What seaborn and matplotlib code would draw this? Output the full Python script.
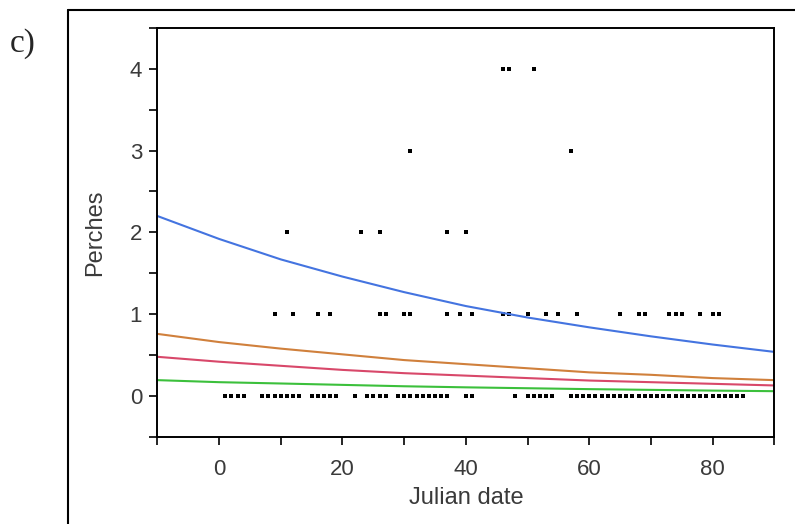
import matplotlib
matplotlib.use("Agg")
import matplotlib.pyplot as plt
import seaborn as sns
import pandas as pd
from matplotlib.lines import Line2D
from matplotlib.ticker import MultipleLocator

# ---- data ----
x0 = [1, 2, 3, 4, 7, 8, 9, 10, 11, 12, 13, 15, 16, 17, 18, 19, 22, 24, 25, 26, 27,
      29, 30, 31, 32, 33, 34, 35, 36, 37, 40, 41, 48, 50, 51, 52, 53, 54] + list(range(57, 86))
x1 = [9, 12, 16, 18, 26, 27, 30, 31, 37, 39, 41, 46, 47, 50, 53, 55, 58, 65, 68, 69,
      73, 74, 75, 78, 80, 81]
x2 = [11, 23, 26, 37, 40]
x3 = [31, 57]
x4 = [46, 47, 51]

curve_x = [-10, 0, 10, 20, 30, 40, 50, 60, 70, 80, 90]
blue_y = [2.20, 1.92, 1.67, 1.46, 1.27, 1.10, 0.96, 0.84, 0.73, 0.63, 0.54]
orange_y = [0.76, 0.66, 0.58, 0.51, 0.44, 0.39, 0.34, 0.29, 0.26, 0.22, 0.195]
red_y = [0.48, 0.42, 0.37, 0.32, 0.28, 0.25, 0.22, 0.19, 0.17, 0.15, 0.13]
green_y = [0.195, 0.17, 0.154, 0.137, 0.12, 0.107, 0.096, 0.085, 0.076, 0.067, 0.06]

x_ticks = [0, 20, 40, 60, 80]
y_ticks = [0, 1, 2, 3, 4]

# ---- build tables ----
pts = pd.DataFrame({
    "Julian date": x0 + x1 + x2 + x3 + x4,
    "Perches": [0] * len(x0) + [1] * len(x1) + [2] * len(x2) + [3] * len(x3) + [4] * len(x4),
})
curves = pd.concat([
    pd.DataFrame({"x": curve_x, "y": blue_y, "model": "blue"}),
    pd.DataFrame({"x": curve_x, "y": orange_y, "model": "orange"}),
    pd.DataFrame({"x": curve_x, "y": red_y, "model": "red"}),
    pd.DataFrame({"x": curve_x, "y": green_y, "model": "green"}),
])
palette = {"blue": "#4474e0", "orange": "#d0803c", "red": "#d8486a", "green": "#3cc03c"}

sns.set_style("ticks")
plt.rcParams["font.family"] = ["Liberation Sans", "DejaVu Sans"]

fig = plt.figure(figsize=(7.95, 5.24), dpi=100)
ax = fig.add_axes([0.198, 0.166, 0.776, 0.781])

sns.lineplot(data=curves, x="x", y="y", hue="model", palette=palette, ax=ax,
             legend=False, linewidth=1.5)
sns.scatterplot(data=pts, x="Julian date", y="Perches", ax=ax, marker="s", s=7,
                color="black", linewidth=0, legend=False)

ax.set_xlim(-10, 90)
ax.set_ylim(-0.5, 4.5)
ax.set_xticks(x_ticks)
ax.set_yticks(y_ticks)
ax.xaxis.set_minor_locator(MultipleLocator(10))
ax.yaxis.set_minor_locator(MultipleLocator(0.5))
ax.tick_params(which="both", direction="out", length=6, width=1.2, color="black",
               labelsize=16, labelcolor="#3a3a3a")
ax.tick_params(axis="x", pad=10)
ax.tick_params(axis="y", pad=5)
ax.set_xlabel("Julian date", fontsize=17, color="#3a3a3a", labelpad=5)
ax.set_ylabel("Perches", fontsize=17, color="#3a3a3a", labelpad=17)
for s in ax.spines.values():
    s.set_visible(True)
    s.set_linewidth(1.4)
    s.set_color("black")

# outer panel frame and label
fig.add_artist(Line2D([68 / 795, 68 / 795], [0, 1 - 10 / 524], transform=fig.transFigure,
                      color="black", linewidth=1.5))
fig.add_artist(Line2D([68 / 795, 1], [1 - 10 / 524, 1 - 10 / 524], transform=fig.transFigure,
                      color="black", linewidth=1.5))
fig.text(10 / 795, 1 - 44 / 524, "c)", family=["Liberation Serif", "DejaVu Serif"],
         fontsize=24, va="center", ha="left")

fig.savefig("out.png", dpi=100)
